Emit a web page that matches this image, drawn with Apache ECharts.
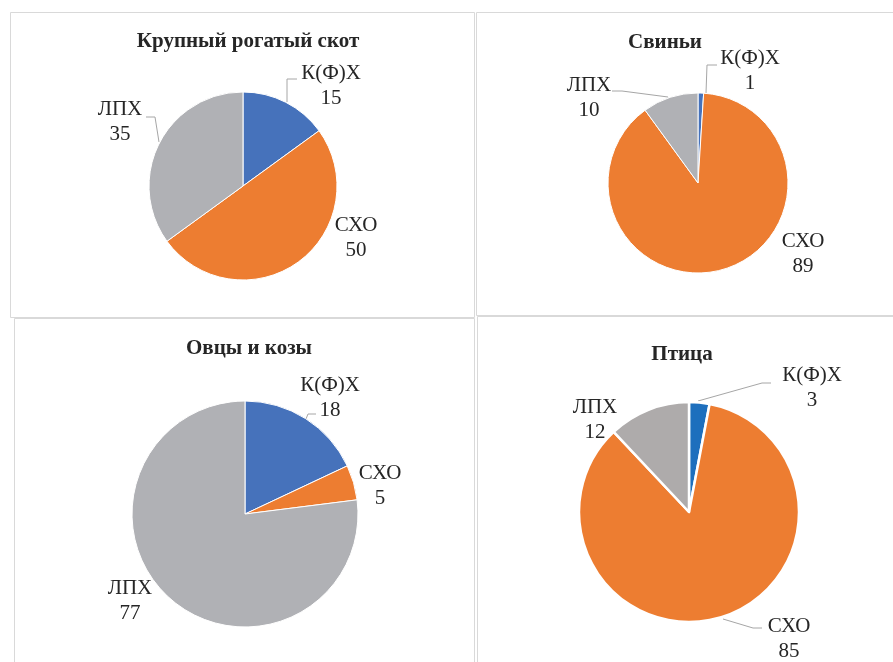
<!DOCTYPE html>
<html>
<head>
<meta charset="utf-8">
<script src="https://cdn.jsdelivr.net/npm/echarts@6/dist/echarts.min.js"></script>
<style>
  html, body { margin: 0; padding: 0; background: #fff; }
  #chart { width: 893px; height: 662px; }
</style>
</head>
<body>
<div id="chart"></div>
<script>
// категории (по часовой стрелке от 12 часов)
var categories = ['К(Ф)Х', 'СХО', 'ЛПХ'];

// структура поголовья, %
var titles = ['Крупный рогатый скот', 'Свиньи', 'Овцы и козы', 'Птица'];
var cattleValues = [15, 50, 35];
var pigValues = [1, 89, 10];
var sheepValues = [18, 5, 77];
var poultryValues = [3, 85, 12];

var FONT = '"Liberation Serif", "Times New Roman", serif';
var chart = echarts.init(document.getElementById('chart'));

// раскладка панелей: рамка, центр, радиус, заголовок, центры подписей, выноски
var panels = [
    {
        values: cattleValues, box: [10.5, 12.5, 464, 305], center: [243, 186], r: 94, title: [243, 37],
        colors: ['#4672bb', '#ed7d31', '#b0b1b5'], border: 1,
        labels: [[331, 86], [356, 238], [120, 122]],
        lines: [[[287, 102], [287, 79], [297, 79]], null, [[159, 142], [155, 117], [146, 117]]]
    },
    {
        values: pigValues, box: [476.5, 12.5, 430, 303], center: [698, 183], r: 90, title: [660, 38],
        colors: ['#4672bb', '#ed7d31', '#b0b1b5'], border: 1,
        labels: [[750, 71], [803, 254], [589, 98]],
        lines: [[[706, 93], [707, 65], [717, 65]], null, [[668, 97], [622, 91], [612, 91]]]
    },
    {
        values: sheepValues, box: [14.5, 318.5, 460, 360], center: [245, 514], r: 113, title: [244, 344],
        colors: ['#4672bb', '#ed7d31', '#b0b1b5'], border: 1,
        labels: [[330, 398], [380, 486], [130, 601]],
        lines: [[[306, 419], [308, 414], [316, 414]], null, null]
    },
    {
        values: poultryValues, box: [477.5, 316.5, 430, 360], center: [689, 512], r: 110, title: [677, 350],
        colors: ['#1d6fbd', '#ed7d31', '#aeabab'], border: 2.5,
        labels: [[812, 388], [789, 639], [595, 420]],
        lines: [[[698, 401], [762, 383], [771, 383]], [[723, 619], [753, 628], [762, 628]], null]
    }
];

var series = panels.map(function (p) {
    return {
        type: 'pie',
        center: p.center,
        radius: [0, p.r],
        startAngle: 90,
        clockwise: true,
        silent: true,
        animation: false,
        itemStyle: { borderColor: '#fff', borderWidth: p.border },
        label: { show: false },
        labelLine: { show: false },
        data: categories.map(function (name, i) {
            return { name: name, value: p.values[i], itemStyle: { color: p.colors[i] } };
        })
    };
});

// рамки панелей, подписи данных и выноски
var graphics = [];
panels.forEach(function (p) {
    graphics.push({
        type: 'rect',
        shape: { x: p.box[0], y: p.box[1], width: p.box[2], height: p.box[3] },
        style: { fill: null, stroke: '#d9d9d9', lineWidth: 1 }
    });
    categories.forEach(function (name, i) {
        graphics.push({
            type: 'text',
            x: p.labels[i][0], y: p.labels[i][1],
            style: {
                text: name + '\n' + p.values[i],
                align: 'center', verticalAlign: 'middle',
                fontFamily: FONT, fontSize: 21, lineHeight: 25, fill: '#262626'
            }
        });
        if (p.lines[i]) {
            graphics.push({
                type: 'polyline',
                shape: { points: p.lines[i] },
                style: { stroke: '#a6a6a6', lineWidth: 1, fill: null }
            });
        }
    });
});

chart.setOption({
    backgroundColor: '#fff',
    title: panels.map(function (p, i) {
        return {
            text: titles[i],
            left: p.title[0], top: p.title[1],
            textAlign: 'center', textVerticalAlign: 'middle',
            textStyle: { fontFamily: FONT, fontSize: 21, fontWeight: 'bold', color: '#262626' }
        };
    }),
    graphic: graphics,
    series: series
});
</script>
</body>
</html>
